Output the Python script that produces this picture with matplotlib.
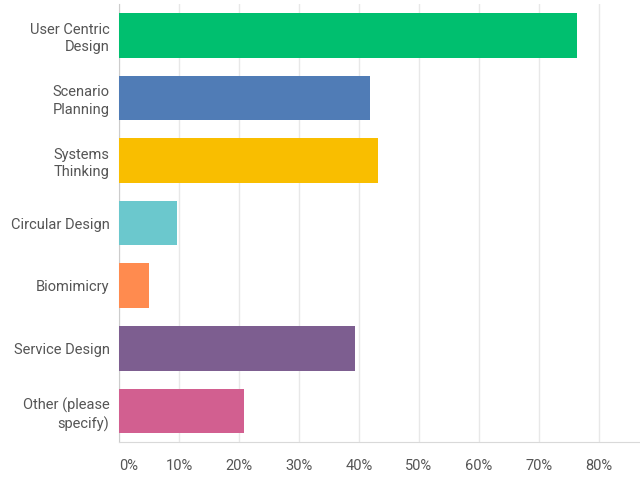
import matplotlib.pyplot as plt

# Survey answers (percent of respondents)
categories = ["User Centric\nDesign", "Scenario\nPlanning", "Systems\nThinking",
              "Circular Design", "Biomimicry", "Service Design",
              "Other (please\nspecify)"]
percent = [76.4, 41.9, 43.1, 9.7, 4.9, 39.4, 20.8]
colors = ["#00BF6F", "#507CB6", "#F9BE00", "#6BC8CD", "#FF8B4F", "#7D5E90", "#D25F90"]
xticks = [0, 10, 20, 30, 40, 50, 60, 70, 80]
xtick_labels = ["0%", "10%", "20%", "30%", "40%", "50%", "60%", "70%", "80%"]

plt.rcParams['font.family'] = ['Roboto', 'DejaVu Sans']

fig = plt.figure(figsize=(6.4, 4.93), dpi=100)
ax = fig.add_axes([0.1863, 0.1028, 0.8137, 0.8892])

ypos = list(range(len(categories)))
ax.barh(ypos, percent, height=0.714, color=colors, zorder=3)

ax.set_xlim(0, 86.9)
ax.set_ylim(6.5, -0.5)

ax.set_xticks(xticks)
ax.set_xticklabels(xtick_labels)
ax.set_yticks(ypos)
ax.set_yticklabels(categories, linespacing=1.3)
ax.get_xticklabels()[0].set_ha('left')

ax.tick_params(axis='x', length=0, pad=12, labelsize=10.5, labelcolor='#555555')
ax.tick_params(axis='y', length=0, pad=7, labelsize=10.5, labelcolor='#555555')

ax.grid(axis='x', color='#e8e8e8', linewidth=1, zorder=0)
for side in ['top', 'right']:
    ax.spines[side].set_visible(False)
ax.spines['left'].set_color('#cccccc')
ax.spines['bottom'].set_color('#d9d9d9')

fig.savefig("out.png", dpi=100)
